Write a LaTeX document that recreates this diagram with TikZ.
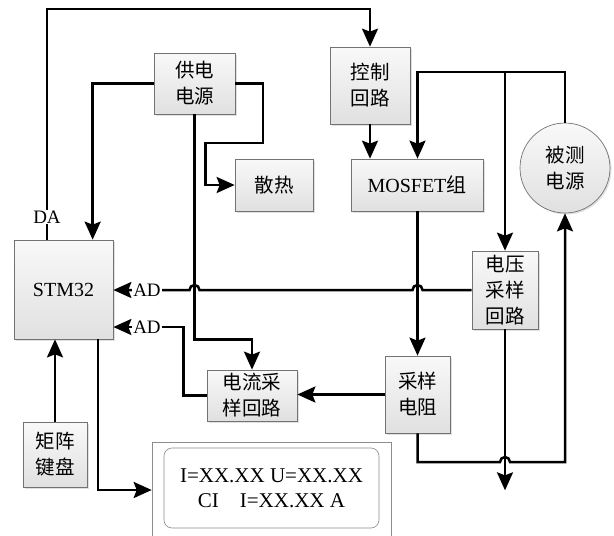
\documentclass[tikz,border=0pt]{standalone}
\usepackage{fontspec}
\setmainfont{Liberation Serif}
\newfontfamily\cjk[Scale=1.0]{Noto Sans CJK SC}
\usetikzlibrary{arrows.meta,calc,shadows}
\begin{document}
\begin{tikzpicture}[x=1pt,y=-1pt,
  box/.style={draw=black!55, line width=0.7pt, top color=gray!5, bottom color=gray!24,
    drop shadow={shadow xshift=1.5pt,shadow yshift=-1.5pt,opacity=0.3,fill=black!40},
    align=center, inner sep=0pt, font=\fontsize{20}{26}\selectfont},
  zh/.style={font=\fontsize{19.5}{26}\selectfont\cjk},
  arr/.style={line width=2.5pt, -{Stealth[length=18pt,width=16pt,inset=3pt]}},
  lbl/.style={fill=white, inner sep=1pt, font=\fontsize{19}{22}\selectfont}
]
\useasboundingbox (0,0) rectangle (614,536);
\clip (0,0) rectangle (614,536);

% boxes
\node[box, zh, minimum width=81, minimum height=61] (gd) at (194.5,83.5) {供电\\电源};
\node[box, zh, minimum width=78, minimum height=52] (sr) at (274,185) {散热};
\node[box, zh, minimum width=80, minimum height=77] (kz) at (370,85.5) {控制\\回路};
\node[box, minimum width=132, minimum height=52] (mos) at (417,185) {MOSFET{\cjk 组}};
\node[box, zh, circle, minimum size=90] (bc) at (565,168) {被测\\电源};
\node[box, zh, minimum width=66, minimum height=78] (vs) at (505,290) {电压\\采样\\回路};
\node[box, zh, minimum width=65, minimum height=77] (res) at (417.5,394.5) {采样\\电阻};
\node[box, zh, minimum width=90, minimum height=51] (cs) at (252,395.5) {电流采\\样回路};
\node[box, minimum width=99, minimum height=99] (stm) at (63.5,289.5) {STM32};
\node[box, zh, minimum width=64, minimum height=65] (kb) at (55,454.5) {矩阵\\键盘};
\node[draw=black!45, line width=0.6pt, minimum width=239, minimum height=96] (disp) at (271.5,490) {};
\node[draw=black!45, rounded corners=8pt, line width=0.6pt, minimum width=215, minimum height=80,
  align=center, font=\fontsize{21}{25}\selectfont] (lcd) at (271.5,488) {I=XX.XX U=XX.XX\\CI\quad I=XX.XX A};

% coordinates
\coordinate (ytop) at (0,72);
\coordinate (ybot) at (0,462);
\coordinate (daT) at (47,9);

% DA : STM32 -> control loop
\draw[arr] (daT |- stm.north) -- (daT) -| (kz.north);
% power supply -> STM32
\draw[arr] (gd.west) -| ($(stm.north west)+(79,0)$);
% power supply -> cooling
\draw[arr] (gd.east) -| (263,143) -| ($(sr.west)+(-29,0)$) -- (sr.west);
% power supply -> current sampling
\draw[arr] (gd.south) |- ($(cs.north)+(0,-30)$) -- (cs.north);
% control -> MOSFET
\draw[arr] (kz.south) -- (kz.south |- mos.north);
% source loop -> MOSFET, voltage sampling
\draw[arr] (bc.north) |- (ytop -| res.north) -- (res.north |- mos.north);
\draw[arr] (ytop -| vs.north) -- (vs.north);
% MOSFET -> sampling resistor
\draw[arr] (mos.south -| res.north) -- (res.north);
% voltage sampling -> STM32 (AD)
\draw[arr] (vs.west) -- ($(vs.west -| res.north)+(5,0)$) arc[start angle=0, end angle=-180, radius=5]
  -- ($(vs.west -| gd.south)+(5,0)$) arc[start angle=0, end angle=-180, radius=5]
  -- (vs.west -| stm.east);
% current sampling -> STM32 (AD)
\draw[arr] (cs.west) -| ($(stm.east)+(70,37.5)$) -- ($(stm.east)+(0,37.5)$);
% resistor -> current sampling
\draw[arr] (res.west) -- (res.west -| cs.east);
% resistor -> source
\draw[arr] (res.south) |- ($(ybot -| vs.south)+(-5,0)$) arc[start angle=180, end angle=360, radius=5]
  -- (ybot -| bc.south) -- (bc.south);
% voltage sampling output
\path (vs.south) ++(0,161) coordinate (vend);
\draw[arr] (vs.south) -- (vend);
% keyboard -> STM32
\draw[arr] (kb.north) -- (kb.north |- stm.south);
% STM32 -> display
\draw[arr] ($(stm.south)+(34.5,0)$) |- (disp.west);

% labels
\node[lbl] (da) at (47,217) {DA};
\node[lbl] (ad1) at (147,290) {AD};
\node[lbl] (ad2) at (147,327) {AD};
\end{tikzpicture}
\end{document}
